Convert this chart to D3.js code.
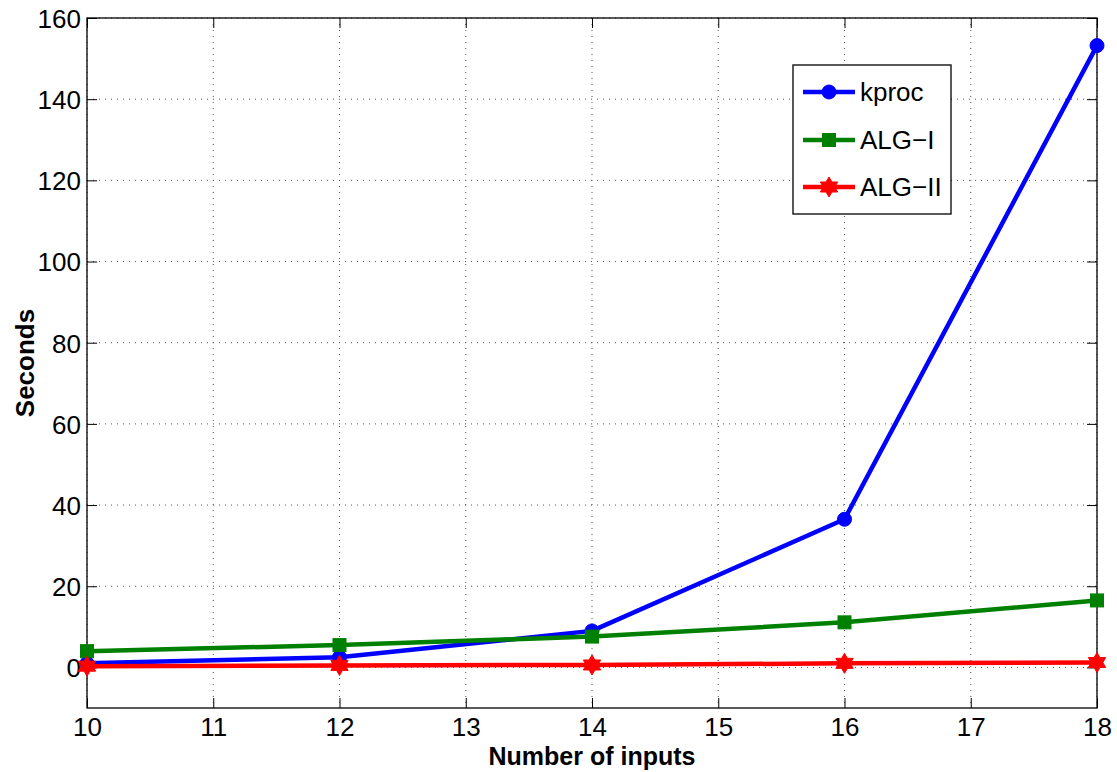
<!DOCTYPE html>
<html><head><meta charset="utf-8">
<script src="https://cdn.jsdelivr.net/npm/d3@7"></script>
<style>body{margin:0;background:#fff;} text{font-family:"Liberation Sans",Arial,sans-serif;}</style>
</head><body>
<svg id="c" width="1117" height="772"></svg>
<script>
const xValues = [10, 12, 14, 16, 18];
const kproc = [1.0, 2.5, 9.0, 36.5, 153.2];
const algI = [4.0, 5.5, 7.6, 11.1, 16.5];
const algII = [0.3, 0.5, 0.6, 1.0, 1.2];
const xTicks = [10, 11, 12, 13, 14, 15, 16, 17, 18];
const yTicks = [0, 20, 40, 60, 80, 100, 120, 140, 160];
const seriesNames = ["kproc", "ALG\u2212I", "ALG\u2212II"];
const seriesColors = ["#0000ff", "#008000", "#ff0000"];
const seriesMarkers = ["circle", "square", "star"];

const svg = d3.select("#c");
const L = 87, R = 1097, T = 18, B = 708;
const x = d3.scaleLinear().domain([10, 18]).range([L, R]);
const y = d3.scaleLinear().domain([-10, 160]).range([B, T]);

// grid
const g = svg.append("g");
xTicks.forEach(t => {
  g.append("line").attr("x1", x(t)).attr("x2", x(t)).attr("y1", T).attr("y2", B)
   .attr("stroke", "#555").attr("stroke-width", 1).attr("stroke-dasharray", "1,5");
});
yTicks.forEach(t => {
  g.append("line").attr("x1", L).attr("x2", R).attr("y1", y(t)).attr("y2", y(t))
   .attr("stroke", "#555").attr("stroke-width", 1).attr("stroke-dasharray", "1,5");
});

// axes
const ax = svg.append("g").attr("transform", `translate(0,${B})`)
  .call(d3.axisBottom(x).tickValues(xTicks).tickSize(-10).tickPadding(10).tickFormat(d3.format("d")));
const ay = svg.append("g").attr("transform", `translate(${L},0)`)
  .call(d3.axisLeft(y).tickValues(yTicks).tickSize(-10).tickPadding(6).tickFormat(d3.format("d")));
const axT = svg.append("g").attr("transform", `translate(0,${T})`)
  .call(d3.axisTop(x).tickValues(xTicks).tickSize(-10).tickFormat(""));
const ayR = svg.append("g").attr("transform", `translate(${R},0)`)
  .call(d3.axisRight(y).tickValues(yTicks).tickSize(-10).tickFormat(""));
[ax, ay, axT, ayR].forEach(a => {
  a.select(".domain").remove();
  a.selectAll("line").attr("stroke", "#000").attr("stroke-width", 1);
  a.selectAll("text").attr("font-size", 26).attr("fill", "#000")
   .style("font-family", '"Liberation Sans",Arial,sans-serif');
});
ay.selectAll("text").attr("dy", "0.36em");
svg.append("rect").attr("x", L).attr("y", T).attr("width", R - L).attr("height", B - T)
  .attr("fill", "none").attr("stroke", "#000").attr("stroke-width", 1.3);

// marker draw
function drawMarker(sel, type, cx, cy, color) {
  if (type === "circle") {
    sel.append("circle").attr("cx", cx).attr("cy", cy).attr("r", 7)
      .attr("fill", color).attr("stroke", color).attr("stroke-width", 1);
  } else if (type === "square") {
    const s = 13;
    sel.append("rect").attr("x", cx - s / 2).attr("y", cy - s / 2).attr("width", s).attr("height", s)
      .attr("fill", color).attr("stroke", color).attr("stroke-width", 1);
  } else {
    const ro = 10, ri = 5.8;
    const pts = [];
    for (let i = 0; i < 12; i++) {
      const a = -Math.PI / 2 + i * Math.PI / 6;
      const r = i % 2 === 0 ? ro : ri;
      pts.push([cx + r * Math.cos(a), cy + r * Math.sin(a)]);
    }
    sel.append("polygon").attr("points", pts.map(p => p.join(",")).join(" "))
      .attr("fill", color).attr("stroke", color).attr("stroke-width", 1);
  }
}

const allSeries = [kproc, algI, algII];
const line = d3.line().x((d, i) => x(xValues[i])).y(d => y(d));
allSeries.forEach((vals, si) => {
  const sg = svg.append("g");
  sg.append("path").datum(vals).attr("d", line).attr("fill", "none")
    .attr("stroke", seriesColors[si]).attr("stroke-width", 4.5).attr("stroke-linejoin", "round");
  vals.forEach((v, i) => drawMarker(sg, seriesMarkers[si], x(xValues[i]), y(v), seriesColors[si]));
});

// legend
const lg = svg.append("g");
lg.append("rect").attr("x", 793).attr("y", 65).attr("width", 158).attr("height", 149)
  .attr("fill", "#fff").attr("stroke", "#000").attr("stroke-width", 1.3);
const legY = [92, 140, 187];
seriesNames.forEach((n, i) => {
  lg.append("line").attr("x1", 803).attr("x2", 855).attr("y1", legY[i]).attr("y2", legY[i])
    .attr("stroke", seriesColors[i]).attr("stroke-width", 4.5);
  drawMarker(lg, seriesMarkers[i], 829, legY[i], seriesColors[i]);
  lg.append("text").attr("x", 860).attr("y", legY[i]).attr("dy", "0.36em")
    .attr("font-size", 26).text(n);
});

// axis titles
svg.append("text").attr("x", (L + R) / 2).attr("y", 765).attr("text-anchor", "middle")
  .attr("font-size", 25).attr("font-weight", "bold").text("Number of inputs");
svg.append("text").attr("transform", `translate(34,${(T + B) / 2}) rotate(-90)`)
  .attr("text-anchor", "middle").attr("font-size", 26).attr("font-weight", "bold").text("Seconds");
</script>
</body></html>
